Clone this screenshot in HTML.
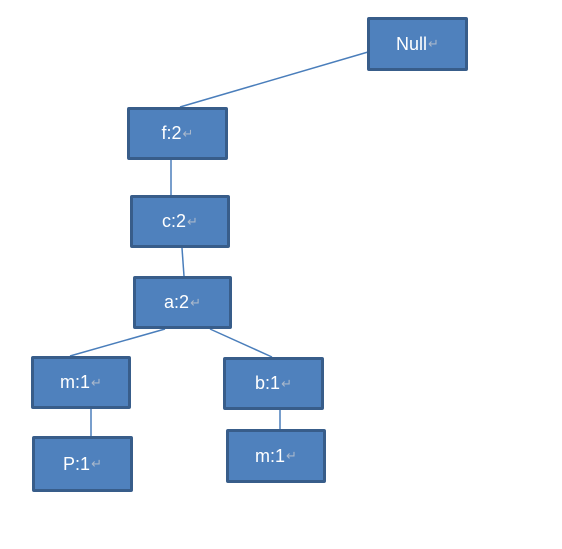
<!DOCTYPE html>
<html><head><style>
body{margin:0;width:562px;height:549px;background:#fff;position:relative;overflow:hidden;font-family:"Liberation Sans",sans-serif}
.b{position:absolute;box-sizing:border-box;background:#4f81bd;border:3px solid #385d8a;border-radius:2px;color:#fff;font-size:18px;display:flex;align-items:center;justify-content:center}
.b i{font-style:normal;color:#a9b8cc;font-size:13px;margin-left:1px}
svg{position:absolute;left:0;top:0}
</style></head><body>
<svg width="562" height="549"><g stroke="#4a7ebb" stroke-width="1.5">
<line x1="368" y1="52" x2="180" y2="107"/>
<line x1="171" y1="160" x2="171" y2="195"/>
<line x1="182" y1="248" x2="184" y2="276"/>
<line x1="165" y1="329" x2="70" y2="356"/>
<line x1="210" y1="329" x2="272" y2="357"/>
<line x1="91" y1="409" x2="91" y2="436"/>
<line x1="280" y1="410" x2="280" y2="429"/>
</g></svg>
<div class="b" style="left:367px;top:17px;width:101px;height:54px">Null<i>↵</i></div>
<div class="b" style="left:127px;top:107px;width:101px;height:53px">f:2<i>↵</i></div>
<div class="b" style="left:130px;top:195px;width:100px;height:53px">c:2<i>↵</i></div>
<div class="b" style="left:133px;top:276px;width:99px;height:53px">a:2<i>↵</i></div>
<div class="b" style="left:31px;top:356px;width:100px;height:53px">m:1<i>↵</i></div>
<div class="b" style="left:223px;top:357px;width:101px;height:53px">b:1<i>↵</i></div>
<div class="b" style="left:32px;top:436px;width:101px;height:56px">P:1<i>↵</i></div>
<div class="b" style="left:226px;top:429px;width:100px;height:54px">m:1<i>↵</i></div>
</body></html>
